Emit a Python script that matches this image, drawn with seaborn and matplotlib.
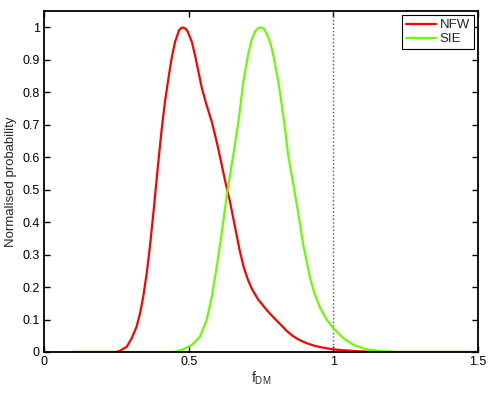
import matplotlib
matplotlib.use("Agg")
import matplotlib.pyplot as plt
import seaborn as sns
import pandas as pd

# values
nfw_f = [0.10, 0.20, 0.25, 0.263, 0.286, 0.303, 0.320, 0.332, 0.343, 0.355,
         0.366, 0.378, 0.389, 0.398, 0.407, 0.418, 0.430, 0.441, 0.453, 0.467,
         0.475, 0.482, 0.490, 0.497, 0.511, 0.522, 0.530, 0.545, 0.562, 0.580,
         0.597, 0.612, 0.626, 0.643, 0.660, 0.677, 0.690, 0.705, 0.720, 0.740,
         0.770, 0.795, 0.816, 0.840, 0.862, 0.885, 0.908, 0.935, 0.966, 1.0,
         1.040, 1.092, 1.161, 1.5]
nfw_p = [0.0, 0.0, 0.0, 0.004, 0.016, 0.042, 0.078, 0.119, 0.170, 0.242,
         0.324, 0.427, 0.529, 0.610, 0.688, 0.770, 0.842, 0.904, 0.955, 0.991,
         0.998, 0.999, 0.995, 0.986, 0.955, 0.914, 0.880, 0.815, 0.760, 0.709,
         0.647, 0.586, 0.527, 0.462, 0.386, 0.310, 0.262, 0.222, 0.192, 0.162,
         0.129, 0.105, 0.086, 0.064, 0.048, 0.036, 0.027, 0.019, 0.013, 0.008,
         0.005, 0.002, 0.0, 0.0]

sie_f = [0.10, 0.30, 0.45, 0.476, 0.511, 0.539, 0.562, 0.580, 0.597, 0.614,
         0.631, 0.643, 0.654, 0.672, 0.689, 0.706, 0.718, 0.730, 0.740, 0.750,
         0.760, 0.770, 0.782, 0.793, 0.810, 0.822, 0.833, 0.844, 0.853, 0.862,
         0.879, 0.896, 0.919, 0.935, 0.955, 0.977, 1.0, 1.035, 1.069, 1.115,
         1.161, 1.22, 1.5]
sie_p = [0.0, 0.0, 0.0, 0.006, 0.022, 0.047, 0.098, 0.170, 0.262, 0.365,
         0.478, 0.545, 0.606, 0.709, 0.832, 0.918, 0.962, 0.988, 0.997, 1.0,
         0.995, 0.980, 0.952, 0.912, 0.832, 0.760, 0.688, 0.606, 0.560, 0.515,
         0.427, 0.330, 0.230, 0.180, 0.135, 0.100, 0.073, 0.042, 0.022, 0.008,
         0.003, 0.0, 0.0]

df = pd.concat([
    pd.DataFrame({"f": nfw_f, "p": nfw_p, "model": "NFW"}),
    pd.DataFrame({"f": sie_f, "p": sie_p, "model": "SIE"}),
])

sns.set_style("ticks")
plt.rcParams['font.family'] = ['Liberation Sans', 'DejaVu Sans']

fig = plt.figure(figsize=(4.91, 3.94), dpi=100)
ax = fig.add_axes([0.0896, 0.1066, 0.8839, 0.8654])

ax.axvline(1.0, color='#555555', linestyle=':', linewidth=1.0, zorder=1)
sns.lineplot(data=df, x="f", y="p", hue="model", sort=False,
             palette={"NFW": "#ff0000", "SIE": "#66ff00"},
             linewidth=1.6, ax=ax, zorder=2)

ax.set_xlim(0, 1.5)
ax.set_ylim(0, 1.05)
ax.set_xticks([0, 0.5, 1, 1.5])
ax.set_xticklabels(['0', '0.5', '1', '1.5'])
ax.set_yticks([i / 10 for i in range(11)])
ax.set_yticklabels(['0'] + [f'0.{i}' for i in range(1, 10)] + ['1'])
ax.tick_params(direction='in', top=True, right=True, length=4, width=1,
               labelsize=9, colors='black', pad=3)
for s in ax.spines.values():
    s.set_visible(True)
    s.set_linewidth(1.3)
    s.set_color('black')

ax.set_xlabel(r'$\mathregular{f_{DM}}$', fontsize=10, labelpad=1)
ax.set_ylabel('Normalised probability', fontsize=9.5, labelpad=4)

leg = ax.legend(loc='upper right', fontsize=9.5, frameon=True, fancybox=False,
                edgecolor='black', framealpha=1, borderpad=0.3,
                labelspacing=0.15, handlelength=2.3, handletextpad=0.3,
                borderaxespad=0.3)
leg.get_frame().set_linewidth(0.8)

fig.savefig("out.png", dpi=100)
